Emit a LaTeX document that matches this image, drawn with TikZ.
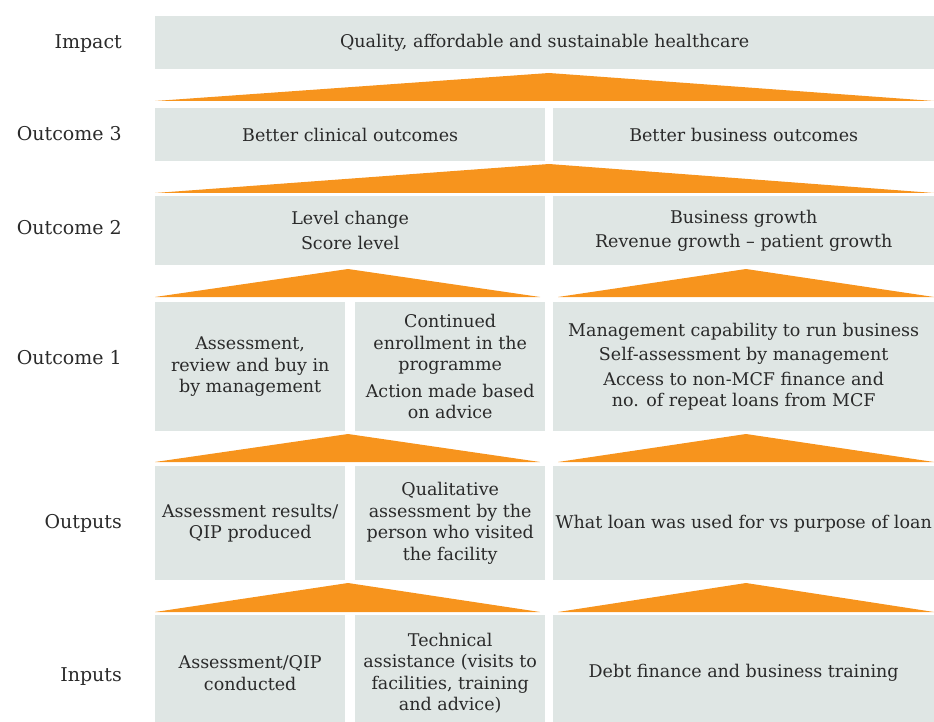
\documentclass[tikz,border=0pt]{standalone}
\usepackage{fontspec}
\setmainfont{DejaVu Serif}
\usetikzlibrary{positioning}
\definecolor{cellgrey}{HTML}{DFE6E4}
\definecolor{liftorange}{HTML}{F7941D}
\definecolor{inkgrey}{HTML}{2A2A2A}
\tikzset{
    cell/.style={fill=cellgrey,inner sep=0pt,anchor=north west,align=center,text=inkgrey,
        font=\fontsize{17.5}{21.5}\selectfont},
    wide cell/.style={cell,minimum width=390pt},
    right cell/.style={cell,minimum width=381pt},
    narrow cell/.style={cell,minimum width=190pt},
    rowlabel/.style={anchor=east,inner sep=0pt,text=inkgrey,
        font=\fontsize{19}{23}\selectfont,text height=1.5ex,text depth=.25ex},
    lift/.style={fill=liftorange},
}

\begin{document}
\begin{tikzpicture}[x=1pt,y=-1pt]
        \useasboundingbox (0,0) rectangle (934,722);
        \clip (0,0) rectangle (934,722);

        % row labels
        \node[rowlabel] (impactlabel) at (122,45) {Impact};
        \node[rowlabel] (outthreelabel) at (122,137) {Outcome 3};
        \node[rowlabel] (outtwolabel) at (122,231) {Outcome 2};
        \node[rowlabel] (outonelabel) at (122,361) {Outcome 1};
        \node[rowlabel] (outputslabel) at (122,525) {Outputs};
        \node[rowlabel] (inputslabel) at (122,678) {Inputs};

        % impact
        \node[cell,minimum width=779pt,minimum height=53pt] (impact) at (155,16)
        {Quality, affordable and sustainable healthcare};
        \fill[lift] (155,101) -- (549,73) -- (934,101) -- cycle;

        % outcome 3
        \node[wide cell,minimum height=53pt] (clinical) at (155,108)
        {Better clinical outcomes};
        \node[right cell,minimum height=53pt] (business) at (553,108)
        {Better business outcomes};
        \fill[lift] (155,193) -- (549,164) -- (934,193) -- cycle;

        % outcome 2
        \node[wide cell,minimum height=69pt] (level) at (155,196)
        {Level change\\[3pt] Score level};
        \node[right cell,minimum height=69pt] (growth) at (553,196)
        {Business growth\\[3pt] Revenue growth -- patient growth};
        \fill[lift] (155,297) -- (348,269) -- (540,297) -- cycle;
        \fill[lift] (558,297) -- (746,269) -- (934,297) -- cycle;

        % outcome 1
        \node[narrow cell,minimum height=129pt] (buyin) at (155,302)
        {Assessment,\\ review and buy in\\ by management};
        \node[narrow cell,minimum height=129pt] (enrol) at (355,302)
        {Continued\\ enrollment in the\\ programme\\[5pt] Action made based\\ on advice};
        \node[right cell,minimum height=129pt] (capability) at (553,302)
        {Management capability to run business\\[3pt] Self-assessment by management\\[3pt]
         Access to non-MCF finance and\\ no. of repeat loans from MCF};
        \fill[lift] (155,462) -- (348,434) -- (540,462) -- cycle;
        \fill[lift] (558,462) -- (746,434) -- (934,462) -- cycle;

        % outputs
        \node[narrow cell,minimum height=114pt] (results) at (155,466)
        {Assessment results/\\ QIP produced};
        \node[narrow cell,minimum height=114pt] (visit) at (355,466)
        {Qualitative\\ assessment by the\\ person who visited\\ the facility};
        \node[right cell,minimum height=114pt] (loanuse) at (553,466)
        {What loan was used for vs purpose of loan};
        \fill[lift] (155,612) -- (348,583) -- (540,612) -- cycle;
        \fill[lift] (558,612) -- (746,583) -- (934,612) -- cycle;

        % inputs
        \node[narrow cell,minimum height=116pt] (qip) at (155,615)
        {Assessment/QIP\\ conducted};
        \node[narrow cell,minimum height=116pt] (assist) at (355,615)
        {Technical\\ assistance (visits to\\ facilities, training\\ and advice)};
        \node[right cell,minimum height=116pt] (debt) at (553,615)
        {Debt finance and business training};
\end{tikzpicture}
\end{document}
